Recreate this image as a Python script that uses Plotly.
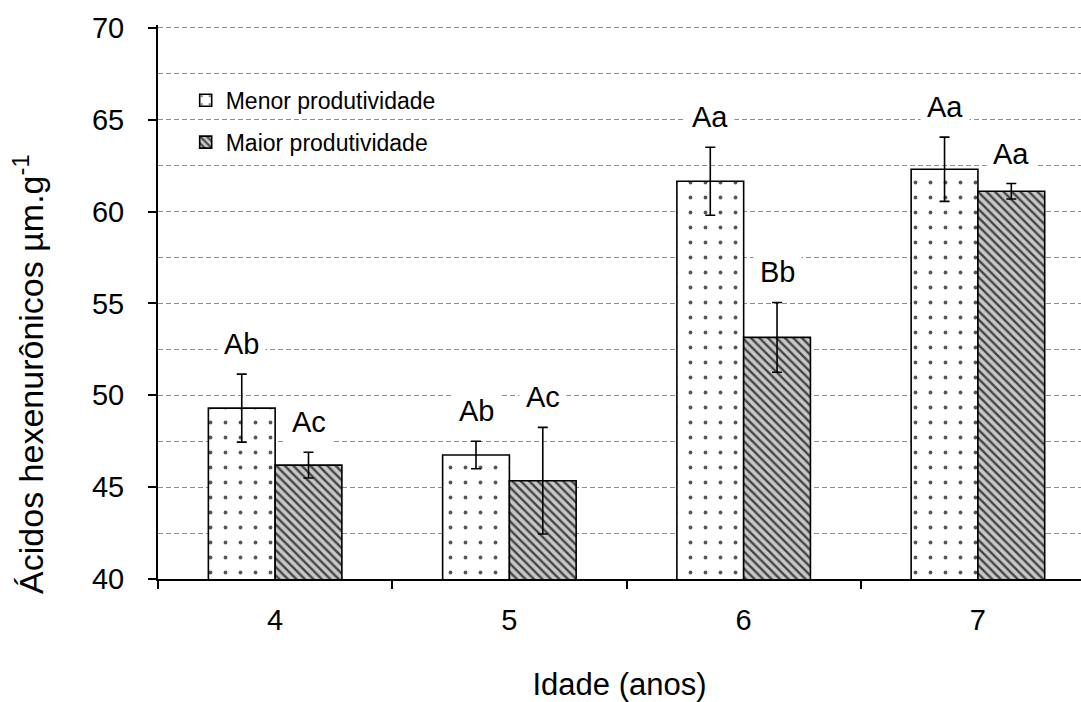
import plotly.graph_objects as go

# Idade do povoamento (anos)
idade = ["4", "5", "6", "7"]

# Ácidos hexenurônicos (µm.g-1): médias e desvios
menor = [49.3, 46.75, 61.65, 62.3]
menor_err = [1.85, 0.75, 1.85, 1.75]
maior = [46.2, 45.35, 53.15, 61.1]
maior_err = [0.7, 2.9, 1.9, 0.42]

# Letras do teste de médias
menor_letras = ["Ab", "Ab", "Aa", "Aa"]
maior_letras = ["Ac", "Ac", "Bb", "Aa"]

# A escala vai um pouco além de 70 para que a grade de 70 seja desenhada
Y_RANGE = [40, 70.15]

FONT = "Arial, 'Liberation Sans', sans-serif"
BARGAP = 0.43
bar_w = (1 - BARGAP) / 2

err_style = dict(type="data", visible=True, color="black", thickness=1.6, width=5)

fig = go.Figure()
fig.add_trace(go.Bar(
    x=idade, y=menor, name="Menor produtividade", legendgroup="menor",
    error_y=dict(array=menor_err, **err_style),
    marker=dict(
        color="white",
        line=dict(color="black", width=1.6),
        pattern=dict(shape=".", size=15, solidity=0.05,
                     fgcolor="#555555", bgcolor="white", fillmode="replace"),
    ),
))
fig.add_trace(go.Bar(
    x=idade, y=maior, name="Maior produtividade", legendgroup="maior",
    error_y=dict(array=maior_err, **err_style),
    marker=dict(
        color="#c8c8c8",
        line=dict(color="black", width=1.6),
        pattern=dict(shape="\\", size=6, solidity=0.4,
                     fgcolor="#444444", bgcolor="#c8c8c8", fillmode="replace"),
    ),
))

# Letras acima das barras de erro
for i in range(len(idade)):
    for vals, errs, letras, side in ((menor, menor_err, menor_letras, -1),
                                      (maior, maior_err, maior_letras, 1)):
        fig.add_annotation(
            x=i + side * bar_w / 2, y=vals[i] + errs[i],
            text=letras[i], showarrow=False,
            xref="x", yref="y", yanchor="middle", yshift=30,
            font=dict(family=FONT, size=29, color="black"),
            bgcolor="white", borderpad=6,
        )

# Título do eixo y
fig.add_annotation(
    text="Ácidos hexenurônicos µm.g<sup>-1</sup>",
    xref="paper", yref="paper", x=-0.141, y=0.37,
    xanchor="center", yanchor="middle", textangle=-90, showarrow=False,
    font=dict(family=FONT, size=34, color="black"),
)

grid = dict(gridcolor="#8c8c8c", griddash="5px,3px", gridwidth=1.3)

fig.update_layout(
    width=1081, height=702,
    margin=dict(l=158, r=0, t=25, b=123),
    paper_bgcolor="white", plot_bgcolor="white",
    barmode="group", bargap=BARGAP, bargroupgap=0,
    font=dict(family=FONT, color="black"),
    showlegend=True,
    legend=dict(
        x=0.03, y=0.903, xanchor="left", yanchor="top",
        font=dict(family=FONT, size=23, color="black"),
        bgcolor="rgba(0,0,0,0)", borderwidth=0,
        tracegroupgap=9,
    ),
    xaxis=dict(
        type="category", range=[-0.5, 3.44],
        tickson="boundaries", ticks="outside", ticklen=8, tickwidth=1.6,
        tickcolor="black", showline=True, linecolor="black", linewidth=2,
        showgrid=False, tickfont=dict(size=29), ticklabelstandoff=14,
        title=dict(text="Idade (anos)", font=dict(size=31), standoff=40),
    ),
    yaxis=dict(
        range=Y_RANGE, tick0=40, dtick=5,
        ticks="outside", ticklen=8, tickwidth=1.6, tickcolor="black",
        showline=True, linecolor="black", linewidth=2,
        showgrid=True, zeroline=False,
        tickfont=dict(size=29), ticklabelstandoff=18,
        minor=dict(dtick=2.5, showgrid=True, ticks="", **grid),
        **grid,
    ),
)

fig.write_html("out.html")
